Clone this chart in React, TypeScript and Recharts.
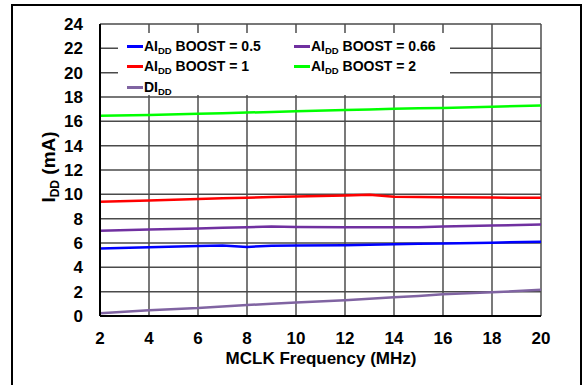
import React from 'react';
import { LineChart, Line, XAxis, YAxis, CartesianGrid, ReferenceArea } from 'recharts';

const freq = [2, 4, 6, 7, 8, 9, 10, 12, 13, 14, 15, 16, 18, 20];
const boost05 = [5.55, 5.65, 5.75, 5.8, 5.68, 5.78, 5.8, 5.82, 5.85, 5.9, 5.93, 5.96, 6.03, 6.1];
const boost066 = [7.0, 7.1, 7.2, 7.25, 7.3, 7.35, 7.32, 7.3, 7.3, 7.3, 7.3, 7.35, 7.43, 7.53];
const boost1 = [9.4, 9.5, 9.62, 9.67, 9.72, 9.78, 9.83, 9.9, 9.97, 9.8, 9.78, 9.77, 9.73, 9.72];
const boost2 = [16.45, 16.53, 16.62, 16.67, 16.72, 16.77, 16.82, 16.93, 16.98, 17.03, 17.07, 17.1, 17.2, 17.3];
const dIdd = [0.22, 0.48, 0.65, 0.78, 0.9, 1.0, 1.1, 1.3, 1.42, 1.55, 1.65, 1.78, 1.95, 2.15];

const xTicks = [2, 4, 6, 8, 10, 12, 14, 16, 18, 20];
const yTicks = [0, 2, 4, 6, 8, 10, 12, 14, 16, 18, 20, 22, 24];

const series = [
  { key: 'b05', pre: 'AI', post: ' BOOST = 0.5', color: '#0000ff' },
  { key: 'b066', pre: 'AI', post: ' BOOST = 0.66', color: '#7030a0' },
  { key: 'b1', pre: 'AI', post: ' BOOST = 1', color: '#ff0000' },
  { key: 'b2', pre: 'AI', post: ' BOOST = 2', color: '#00ff00' },
  { key: 'd', pre: 'DI', post: '', color: '#8064a2' },
];

const data = freq.map((f, i) => ({
  f,
  b05: boost05[i],
  b066: boost066[i],
  b1: boost1[i],
  b2: boost2[i],
  d: dIdd[i],
}));

const font = '"Liberation Sans", Arial, sans-serif';
const gridColor = '#4a4a4a';

function LegendItem({ s }: { s: any }) {
  return (
    <div style={{ display: 'flex', alignItems: 'center', height: 20 }}>
      <span style={{ display: 'inline-block', width: 16, height: 3, background: s.color, marginRight: 1 }} />
      <span style={{ fontSize: 14, fontWeight: 'bold', fontFamily: font, color: '#000', whiteSpace: 'nowrap' }}>
        {s.pre}
        <span style={{ fontSize: 9.5, position: 'relative', top: 3 }}>DD</span>
        {s.post}
      </span>
    </div>
  );
}

// legend sits over the grid as a white box, like the original
function ChartLegend() {
  return (
    <div style={{ position: 'absolute', left: 118, top: 33, background: '#fff', width: 332, height: 62 }}>
      <div style={{ position: 'absolute', left: 9, top: 3 }}>
        <LegendItem s={series[0]} />
        <LegendItem s={series[2]} />
        <div style={{ height: 1 }} />
        <LegendItem s={series[4]} />
      </div>
      <div style={{ position: 'absolute', left: 176, top: 3 }}>
        <LegendItem s={series[1]} />
        <LegendItem s={series[3]} />
      </div>
    </div>
  );
}

const YLabel = () => (
  <text
    transform="translate(55,167) rotate(-90)"
    textAnchor="middle"
    fontFamily={font}
    fontWeight="bold"
    fontSize={19}
    fill="#000"
  >
    I<tspan fontSize={12} dy={4}>DD</tspan>
    <tspan dy={-4}> (mA)</tspan>
  </text>
);

const XLabel = () => (
  <text x={321} y={364} textAnchor="middle" fontFamily={font} fontWeight="bold" fontSize={17} fill="#000">
    MCLK Frequency (MHz)
  </text>
);

export default function App() {
  const tickStyle = { fontFamily: font, fontWeight: 'bold', fontSize: 17, fill: '#000' };
  return (
    <div style={{ position: 'absolute', left: 0, top: 0, width: 586, height: 385, background: '#fff' }}>
      <div
        style={{
          position: 'absolute',
          left: 11,
          top: 4,
          width: 571,
          height: 400,
          border: '2px solid #000',
          boxSizing: 'border-box',
        }}
      />
      <div style={{ position: 'absolute', left: 0, top: 0 }}>
        <LineChart width={586} height={385} data={data} margin={{ top: 24, right: 45, bottom: 39, left: 0 }}>
          <CartesianGrid stroke={gridColor} strokeWidth={1.5} vertical={false} />
          {/* vertical grid lines as thin areas; plain vertical lines did not show up */}
          {xTicks.map((t) => (
            <ReferenceArea
              key={`v${t}`}
              x1={t - 0.03}
              x2={t + 0.03}
              y1={0}
              y2={24}
              fill={t === 2 ? '#000' : gridColor}
              fillOpacity={1}
              stroke="none"
              ifOverflow="visible"
            />
          ))}
          <XAxis
            dataKey="f"
            type="number"
            domain={[2, 20]}
            ticks={xTicks}
            interval={0}
            tickSize={0}
            tickMargin={16}
            stroke="#000"
            strokeWidth={2}
            tick={tickStyle}
            label={<XLabel />}
          />
          <YAxis
            type="number"
            domain={[0, 24]}
            ticks={yTicks}
            interval={0}
            width={100}
            tickSize={0}
            tickMargin={17}
            stroke="#000"
            strokeWidth={2}
            tick={tickStyle}
            label={<YLabel />}
          />
          {series.map((s) => (
            <Line
              key={s.key}
              dataKey={s.key}
              stroke={s.color}
              strokeWidth={2.5}
              dot={false}
              type="linear"
              isAnimationActive={false}
            />
          ))}
        </LineChart>
      </div>
      <ChartLegend />
    </div>
  );
}
